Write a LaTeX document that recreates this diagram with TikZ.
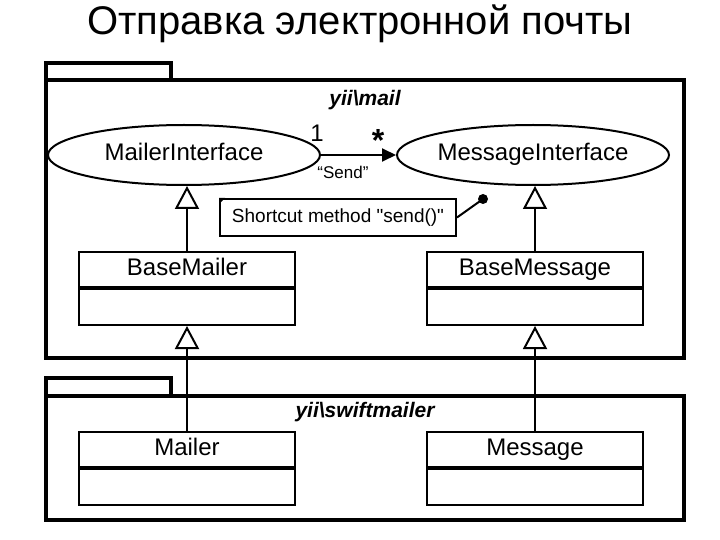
\documentclass[tikz,border=0pt]{standalone}
\usepackage{fontspec}
\setmainfont{Liberation Sans}
\newfontfamily\notefont{Liberation Sans}
\usetikzlibrary{shapes.geometric,arrows.meta}
\begin{document}
\begin{tikzpicture}[x=1pt,y=-1pt,
  pkg/.style={draw,line width=4pt},
  iface/.style={draw,ellipse,line width=2pt,minimum width=272pt,minimum height=60pt,inner sep=0pt,text height=17pt,text depth=5pt,font=\fontsize{24}{28}\selectfont},
  clstop/.style={draw,line width=2pt,minimum width=216pt,minimum height=35pt,inner sep=0pt,text height=17pt,text depth=5pt,font=\fontsize{24}{28}\selectfont},
  clsbot/.style={draw,line width=2pt,minimum width=216pt,minimum height=36pt,inner sep=0pt},
  gen/.style={line width=2pt,-{Triangle[open,length=23pt,width=24pt,line width=2pt,fill=white]}},
  pkglabel/.style={font=\fontsize{21}{24}\selectfont\bfseries\itshape}
]
\useasboundingbox (0,0) rectangle (720,540);
\node[font=\fontsize{40}{44}\selectfont] (title) at (360,24) {Отправка электронной почты};
% packages
\draw[pkg] (46,80) rectangle (171,63);
\draw[pkg] (46,80) rectangle (684,358);
\node[pkglabel] (pmail) at (365,100) {yii\textbackslash mail};
\draw[pkg] (46,396) rectangle (171,378);
\draw[pkg] (46,396) rectangle (684,520);
\node[pkglabel] (pswift) at (365,412) {yii\textbackslash swiftmailer};
% interfaces
\node[iface] (mi) at (184,155) {MailerInterface};
\node[iface] (msgi) at (533,155) {MessageInterface};
\draw[line width=2pt,-{Triangle[length=14pt,width=13pt]}] (mi.east) -- (msgi.west);
\node[font=\fontsize{24}{28}\selectfont] (one) at (317,133) {1};
\node[font=\fontsize{32}{32}\selectfont\bfseries] (star) at (378,140) {*};
\node[font=\fontsize{17}{20}\selectfont] (send) at (343,172) {“Send”};
% note
\node[draw,line width=2pt,minimum width=236pt,minimum height=37pt,inner sep=0pt,font=\notefont\fontsize{19}{22}\selectfont] (note) at (338,217.5) {Shortcut method "send()"};
\fill (note.north west) -- ++(6,0) -- ++(-6,6) -- cycle;
\node[circle,fill,inner sep=0pt,minimum size=10pt] (dot) at (483,199) {};
\draw[line width=2pt] (note.east) -- (dot.center);
% classes
\node[clstop] (bm) at (187,269.5) {BaseMailer};
\node[clsbot,anchor=north] (bmb) at (bm.south) {};
\node[clstop] (bmsg) at (535,269.5) {BaseMessage};
\node[clsbot,anchor=north] (bmsgb) at (bmsg.south) {};
\node[clstop] (ml) at (187,449.5) {Mailer};
\node[clsbot,anchor=north] (mlb) at (ml.south) {};
\node[clstop] (msg) at (535,449.5) {Message};
\node[clsbot,anchor=north] (msgb) at (msg.south) {};
% generalizations
\draw[gen] (bm.north) -- (bm.north |- mi.south);
\draw[gen] (bmsg.north) -- (bmsg.north |- msgi.south);
\draw[gen] (ml.north) -- (bmb.south);
\draw[gen] (msg.north) -- (bmsgb.south);
\end{tikzpicture}
\end{document}
